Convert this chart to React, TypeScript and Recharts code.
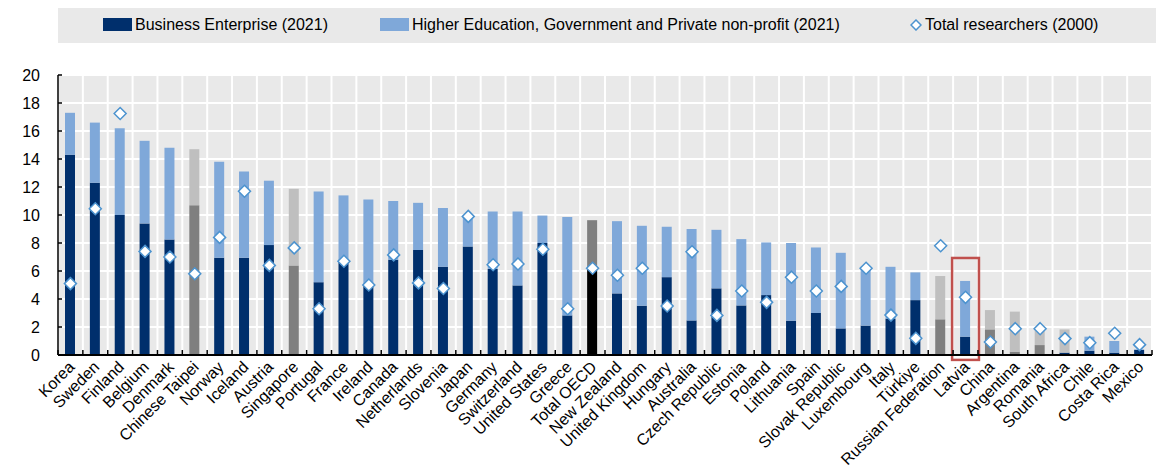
import React from 'react';
import { ComposedChart, Bar, Line, XAxis, YAxis, CartesianGrid, Cell, ReferenceArea } from 'recharts';

const categories = ['Korea','Sweden','Finland','Belgium','Denmark','Chinese Taipei','Norway','Iceland','Austria','Singapore','Portugal','France','Ireland','Canada','Netherlands','Slovenia','Japan','Germany','Switzerland','United States','Greece','Total OECD','New Zealand','United Kingdom','Hungary','Australia','Czech Republic','Estonia','Poland','Lithuania','Spain','Slovak Republic','Luxembourg','Italy','Türkiye','Russian Federation','Latvia','China','Argentina','Romania','South Africa','Chile','Costa Rica','Mexico'];

const businessEnterprise = [14.3,12.3,10.0,9.4,8.25,10.7,6.95,6.95,7.85,6.4,5.2,6.8,5.0,6.8,7.5,6.3,7.75,6.15,4.97,8.0,2.83,6.2,4.4,3.52,5.56,2.47,4.76,3.54,4.28,2.45,3.0,1.9,2.1,2.6,3.92,2.55,1.31,1.83,0.24,0.71,0.17,0.31,0.17,0.36];

const otherSectors = [3.0,4.3,6.2,5.9,6.55,4.0,6.85,6.15,4.6,5.47,6.48,4.6,6.1,4.2,3.37,4.2,2.25,4.1,5.28,1.96,7.02,3.43,5.16,5.71,3.6,6.53,4.18,4.74,3.76,5.55,4.68,5.4,4.2,3.7,1.98,3.09,3.98,1.38,2.86,1.14,1.66,1.0,0.83,0.04];

const totalResearchers2000 = [5.1,10.45,17.25,7.4,7.0,5.8,8.4,11.7,6.4,7.65,3.3,6.7,5.0,7.15,5.15,4.75,9.9,6.45,6.5,7.55,3.3,6.2,5.7,6.2,3.5,7.37,2.83,4.57,3.76,5.56,4.57,4.9,6.2,2.85,1.19,7.8,4.12,0.93,1.88,1.88,1.17,0.88,1.55,0.74];

const yTicks = [0,2,4,6,8,10,12,14,16,18,20];
const greyCountries = ['Chinese Taipei','Singapore','Russian Federation','China','Argentina','Romania'];
const greyOtherOnly = ['South Africa'];
const oecdTotal = 'Total OECD';
const highlighted = 'Latvia';

const NAVY = '#002F6C';
const LIGHT = '#7FA8D9';
const GREY_D = '#7F7F7F';
const GREY_L = '#BFBFBF';
const BG = '#E9E9E9';
const DIAMOND_STROKE = '#4C93CF';
const FONT = '"Liberation Sans", Arial, sans-serif';

const data = categories.map((name, i) => ({
  name,
  business: businessEnterprise[i],
  other: otherSectors[i],
  total2000: totalResearchers2000[i],
}));

const darkColor = (name: string) =>
  name === oecdTotal ? '#000000' : greyCountries.includes(name) ? GREY_D : NAVY;
const lightColor = (name: string) =>
  name === oecdTotal ? GREY_D : (greyCountries.includes(name) || greyOtherOnly.includes(name)) ? GREY_L : LIGHT;

const XTick = (props: any) => {
  const { x, y, payload, index } = props;
  const half = payload && payload.offset ? payload.offset : 12.43;
  const last = index === categories.length - 1;
  return (
    <g>
      <line x1={x - half} x2={x - half} y1={y} y2={y - 5} stroke="#000" strokeWidth={1.5} />
      {last && <line x1={x + half} x2={x + half} y1={y} y2={y - 5} stroke="#000" strokeWidth={1.5} />}
      <text
        x={x + 5}
        y={y + 13}
        textAnchor="end"
        transform={`rotate(-45 ${x + 5} ${y + 13})`}
        fontSize={16}
        fontFamily={FONT}
        fill="#000"
      >
        {payload.value}
      </text>
    </g>
  );
};

const YTick = (props: any) => {
  const { x, y, payload } = props;
  return (
    <g>
      <line x1={x} x2={x + 4} y1={y} y2={y} stroke="#000" strokeWidth={1.5} />
      <text x={x - 18} y={y} dy="0.35em" textAnchor="end" fontSize={16} fontFamily={FONT} fill="#000">
        {payload.value}
      </text>
    </g>
  );
};

const Diamond = (props: any) => {
  const { cx, cy } = props;
  if (cx == null || cy == null) return null;
  const r = 6;
  return (
    <polygon
      points={`${cx},${cy - r} ${cx + r},${cy} ${cx},${cy + r} ${cx - r},${cy}`}
      fill="#fff"
      stroke={DIAMOND_STROKE}
      strokeWidth={1.5}
    />
  );
};

const verticalGen = (args: any) => {
  const { offset, xAxis } = args;
  const n = categories.length;
  try {
    if (xAxis && xAxis.scale && typeof xAxis.scale === 'function') {
      const pts = categories.map((c) => xAxis.scale(c));
      if (pts.every((p: any) => typeof p === 'number' && !isNaN(p))) {
        return [...pts, offset.left + offset.width];
      }
    }
  } catch (e) {}
  return Array.from({ length: n + 1 }, (_, i) => offset.left + (i * offset.width) / n);
};

const RedBox = (props: any) => {
  const { x, y, width, height } = props;
  return <rect x={x - 1} y={y} width={width + 2} height={height} fill="none" stroke="#C0504D" strokeWidth={2.5} />;
};

const legendText: React.CSSProperties = {
  position: 'absolute',
  top: 16,
  fontSize: 16,
  lineHeight: '18px',
  fontFamily: FONT,
  color: '#000',
  whiteSpace: 'nowrap',
};

export default function App() {
  return (
    <div style={{ position: 'absolute', left: 0, top: 0, width: 1163, height: 472, background: '#fff' }}>
      <div style={{ position: 'absolute', left: 58, top: 8, width: 1098, height: 35, background: BG }} />
      <div style={{ position: 'absolute', left: 103, top: 18, width: 29, height: 13, background: NAVY }} />
      <div style={{ ...legendText, left: 135 }}>Business Enterprise (2021)</div>
      <div style={{ position: 'absolute', left: 380, top: 18, width: 29, height: 13, background: LIGHT }} />
      <div style={{ ...legendText, left: 412 }}>Higher Education, Government and Private non-profit (2021)</div>
      <svg style={{ position: 'absolute', left: 910, top: 19 }} width={12} height={12}>
        <polygon points="6,1 11,6 6,11 1,6" fill="#fff" stroke={DIAMOND_STROKE} strokeWidth={1.5} />
      </svg>
      <div style={{ ...legendText, left: 925 }}>Total researchers (2000)</div>

      <div style={{ position: 'absolute', left: 0, top: 0 }}>
        <ComposedChart width={1163} height={472} data={data} margin={{ top: 75, right: 11, bottom: 0, left: 0 }}>
          <CartesianGrid fill={BG} stroke="#fff" strokeWidth={2} verticalCoordinatesGenerator={verticalGen} />
          <XAxis
            dataKey="name"
            interval={0}
            height={117}
            tickSize={0}
            tickMargin={0}
            tickLine={false}
            axisLine={{ stroke: '#000', strokeWidth: 2 }}
            tick={<XTick />}
          />
          <YAxis
            domain={[0, 20]}
            ticks={yTicks}
            width={58}
            tickSize={0}
            tickMargin={0}
            tickLine={false}
            axisLine={{ stroke: '#000', strokeWidth: 1.5 }}
            tick={<YTick />}
            allowDataOverflow
          />
          <Bar dataKey="business" stackId="a" barSize={10} isAnimationActive={false}>
            {data.map((d) => (
              <Cell key={d.name} fill={darkColor(d.name)} />
            ))}
          </Bar>
          <Bar dataKey="other" stackId="a" barSize={10} isAnimationActive={false}>
            {data.map((d) => (
              <Cell key={d.name} fill={lightColor(d.name)} />
            ))}
          </Bar>
          <Line dataKey="total2000" stroke="none" strokeWidth={0} dot={<Diamond />} activeDot={false} isAnimationActive={false} legendType="none" />
          <ReferenceArea x1={highlighted} x2={highlighted} y1={-0.35} y2={6.93} ifOverflow="visible" shape={<RedBox />} />
        </ComposedChart>
      </div>
    </div>
  );
}
